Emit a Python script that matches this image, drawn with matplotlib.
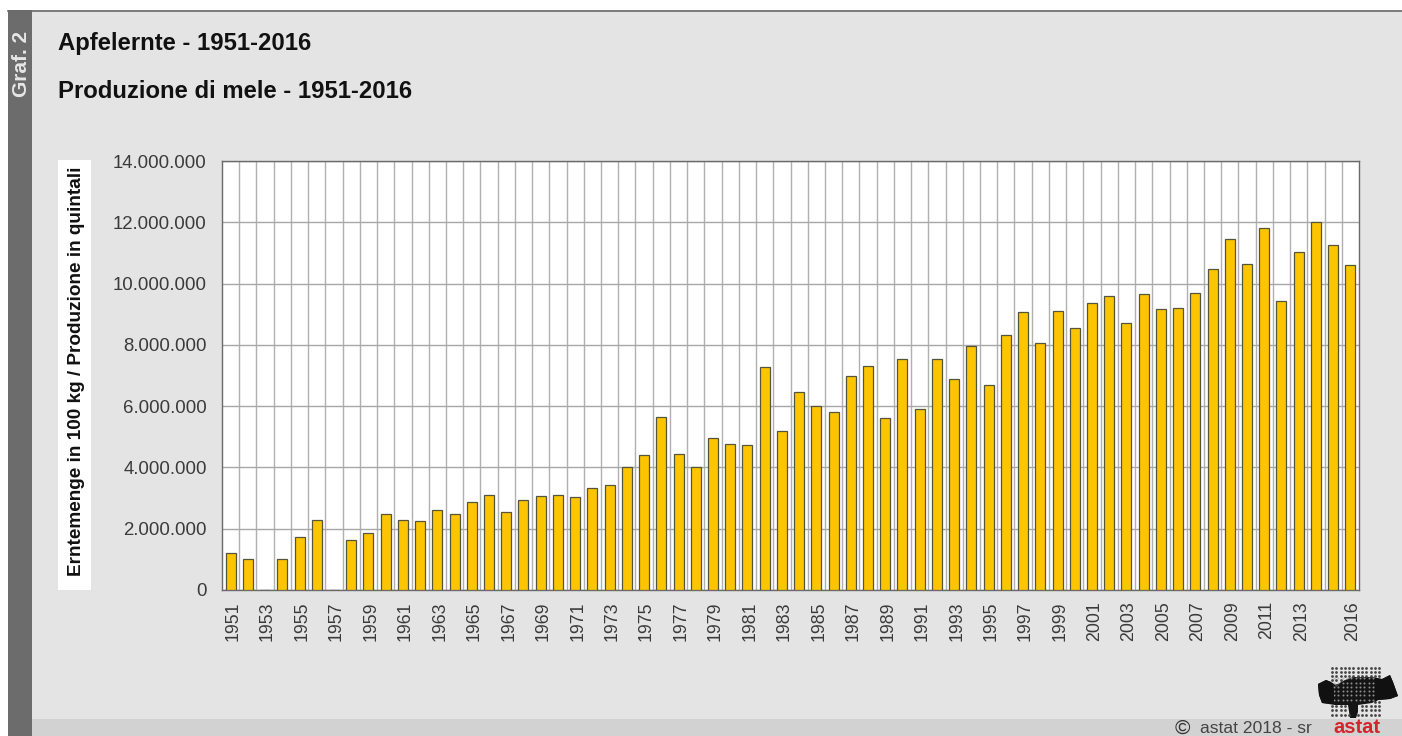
import matplotlib
matplotlib.use("Agg")
import matplotlib.pyplot as plt
from matplotlib.patches import Rectangle, Polygon
from matplotlib.path import Path
from matplotlib.transforms import ScaledTranslation
import numpy as np

plt.rcParams['font.family'] = ['Liberation Sans', 'DejaVu Sans']

years = list(range(1951, 2017))
values = [1.22, 1.00, 0, 1.02, 1.72, 2.28, 0, 1.62, 1.85, 2.47,
          2.30, 2.25, 2.60, 2.48, 2.87, 3.10, 2.56, 2.93, 3.08, 3.10,
          3.05, 3.33, 3.42, 4.02, 4.40, 5.65, 4.43, 4.03, 4.97, 4.75,
          4.73, 7.28, 5.20, 6.47, 6.00, 5.82, 7.00, 7.30, 5.62, 7.55,
          5.92, 7.55, 6.88, 7.95, 6.70, 8.32, 9.08, 8.07, 9.10, 8.55,
          9.38, 9.60, 8.72, 9.65, 9.17, 9.20, 9.68, 10.48, 11.45, 10.63,
          11.82, 9.43, 11.03, 12.00, 11.25, 10.62]
values = [v * 1e6 for v in values]
labelled_years = list(range(1951, 2014, 2)) + [2016]
y_ticks = list(range(0, 14000001, 2000000))
title_de = "Apfelernte - 1951-2016"
title_it = "Produzione di mele - 1951-2016"
y_label = "Erntemenge in 100 kg / Produzione in quintali"
source = "astat 2018 - sr"

W, H = 1402, 736
fig = plt.figure(figsize=(W / 100, H / 100), dpi=100, facecolor='white')
bg = fig.add_axes([0, 0, 1, 1], zorder=0)
bg.set_xlim(0, W); bg.set_ylim(H, 0); bg.axis('off')
bg.add_patch(Rectangle((8, 10), W - 8, H - 10, fc='#e4e4e4', ec='none'))
bg.add_patch(Rectangle((32, 719), W - 32, 17, fc='#d2d2d2', ec='none'))
bg.add_patch(Rectangle((8, 10), 24, H - 10, fc='#6c6c6c', ec='none'))
bg.plot([8, W], [10.5, 10.5], color='#6a6a6a', lw=1.2)
bg.add_patch(Rectangle((58, 160), 33, 430, fc='white', ec='none'))

bg.text(21.5, 64, "Graf. 2", rotation=90, color='#e6e6e6', fontsize=15, fontweight='bold',
        ha='center', va='center')
bg.text(58, 43.5, title_de, fontsize=17.2, fontweight='bold', color='#111111', va='center')
bg.text(58, 91, title_it, fontsize=17.2, fontweight='bold', color='#111111', va='center')
bg.text(77, 371, y_label, rotation=90, fontsize=13.7, fontweight='bold', color='#111111',
        ha='center', va='center')

# chart
ax = fig.add_axes([222 / W, 1 - 590 / H, (1359 - 222) / W, (590 - 161) / H], zorder=2)
ax.set_facecolor('white')
x = np.arange(len(years))
ax.bar(x, values, width=0.58, color='#fdc400', edgecolor='#55553a', linewidth=0.9, zorder=3)
ax.set_xlim(-0.5, len(years) - 0.5)
ax.set_ylim(0, 14000000)
ax.set_yticks(y_ticks)
ax.set_yticklabels([f"{v:,}".replace(",", ".") for v in y_ticks], fontsize=13.4, color='#3a3a3a')
ax.set_xticks([years.index(y) for y in labelled_years])
ax.set_xticklabels([str(y) for y in labelled_years], rotation=90, fontsize=12.8, color='#3a3a3a')
ax.set_xticks(x[:-1] + 0.5, minor=True)
ax.grid(True, which='minor', axis='x', color='#b0b0b0', lw=1.0, zorder=1)
ax.grid(True, which='major', axis='y', color='#a8a8a8', lw=1.0, zorder=1)
ax.tick_params(axis='both', which='both', length=0)
ax.tick_params(axis='x', which='major', pad=8)
ax.tick_params(axis='y', which='major', pad=11)
shift = ScaledTranslation(2.5 / 100, 0, fig.dpi_scale_trans)
for lab in ax.get_xticklabels():
    lab.set_transform(lab.get_transform() + shift)
for s in ax.spines.values():
    s.set_color('#6a6a6a'); s.set_linewidth(1.0)

# footer
bg.text(1182, 728, "©", fontsize=15, color='#333333', ha='center', va='center')
bg.text(1200, 728.5, source, fontsize=12.6, color='#444444', va='center')
bg.text(1357, 727.5, "astat", fontsize=14.5, fontweight='bold', color='#d4242c', ha='center', va='center', zorder=5)

# logo: dotted square with dark silhouette
blob = [(1318, 684), (1326, 680), (1331, 682), (1336, 685), (1345, 680), (1353, 677), (1373, 677),
        (1382, 679), (1390, 675), (1393, 682), (1398, 696), (1390, 699), (1378, 700), (1372, 703),
        (1358, 705), (1358, 712), (1356, 718), (1350, 718), (1348, 705), (1335, 705), (1322, 703), (1319, 695)]
left = [(1318, 684), (1326, 680), (1331, 682), (1334, 690), (1334, 704), (1322, 703), (1319, 695)]
right = [(1375, 678), (1382, 679), (1390, 675), (1393, 682), (1398, 696), (1390, 699), (1378, 700), (1375, 702)]
pth = Path(blob + [blob[0]])
gx, gy = np.meshgrid(np.arange(1332, 1383, 4.3), np.arange(667.5, 719, 4.3))
pts = np.c_[gx.ravel(), gy.ravel()]
inside = pth.contains_points(pts)
bg.add_patch(Polygon(blob, closed=True, fc='#151515', ec='none'))
bg.scatter(pts[~inside, 0], pts[~inside, 1], s=4, color='#444444', lw=0, zorder=4)
bg.scatter(*(np.array(np.meshgrid(np.arange(1334.15, 1376, 4.3), np.arange(678.2, 704, 4.3))).reshape(2, -1)),
           s=2, color='#b0b0b0', lw=0, zorder=4, alpha=0.8)
for part in (left, right):
    bg.add_patch(Polygon(part, closed=True, fc='#111111', ec='none', zorder=5))

fig.savefig('out.png', dpi=100, facecolor='white')
